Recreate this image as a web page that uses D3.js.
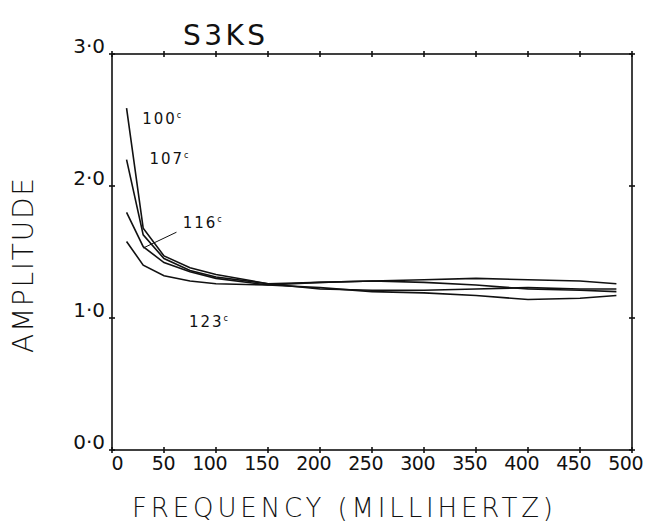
<!DOCTYPE html>
<html>
<head>
<meta charset="utf-8">
<script src="https://cdn.jsdelivr.net/npm/d3@7"></script>
<style>
  body { margin: 0; background: #fff; }
  text { font-family: "DejaVu Sans", sans-serif; fill: #111; }
</style>
</head>
<body>
<div id="chart"></div>
<script>
// frequencies (millihertz) where each curve was sampled
var freqs = [14, 30, 50, 75, 100, 150, 200, 250, 300, 350, 400, 450, 485];

// amplitude per temperature
var amp100 = [2.59, 1.68, 1.47, 1.38, 1.33, 1.26, 1.27, 1.28, 1.29, 1.30, 1.29, 1.28, 1.26];
var amp107 = [2.20, 1.63, 1.45, 1.36, 1.31, 1.26, 1.22, 1.21, 1.21, 1.22, 1.23, 1.22, 1.22];
var amp116 = [1.80, 1.54, 1.42, 1.35, 1.30, 1.25, 1.27, 1.28, 1.27, 1.25, 1.22, 1.21, 1.20];
var amp123 = [1.58, 1.40, 1.32, 1.28, 1.26, 1.25, 1.23, 1.20, 1.19, 1.17, 1.14, 1.15, 1.17];

var series = [
    {name: "100", values: amp100, lx: 29, ly: 2.47},
    {name: "107", values: amp107, lx: 36, ly: 2.17},
    {name: "116", values: amp116, lx: 68, ly: 1.68},
    {name: "123", values: amp123, lx: 74, ly: 0.93}
];

var xTicks = [0, 50, 100, 150, 200, 250, 300, 350, 400, 450, 500];
var yTicks = [0, 1, 2, 3];

var margin = {top: 54, right: 13, bottom: 76, left: 112},
    width = 645 - margin.left - margin.right,
    height = 526 - margin.top - margin.bottom;

var svg = d3.select("#chart")
    .append("svg")
        .attr("width", 645)
        .attr("height", 526)
    .append("g")
        .attr("transform", "translate(" + margin.left + "," + margin.top + ")");

var x = d3.scaleLinear().domain([0, 500]).range([0, width]);
var y = d3.scaleLinear().domain([0, 3]).range([height, 0]);

// frame
svg.append("rect")
    .attr("width", width)
    .attr("height", height)
    .attr("fill", "none")
    .attr("stroke", "#111")
    .attr("stroke-width", 1.6);

// cross ticks on all four sides
var t = 3;
xTicks.forEach(function(v) {
    [0, height].forEach(function(yy) {
        svg.append("line")
            .attr("x1", x(v)).attr("x2", x(v))
            .attr("y1", yy - t).attr("y2", yy + t)
            .attr("stroke", "#111").attr("stroke-width", 1.6);
    });
});
yTicks.forEach(function(v) {
    [0, width].forEach(function(xx) {
        svg.append("line")
            .attr("x1", xx - t).attr("x2", xx + t)
            .attr("y1", y(v)).attr("y2", y(v))
            .attr("stroke", "#111").attr("stroke-width", 1.6);
    });
});

// tick labels: last digit sits on the tick
svg.selectAll(".xlab")
    .data(xTicks)
    .enter().append("text")
        .attr("x", function(d) { return x(d) + 11; })
        .attr("y", height + 20)
        .attr("text-anchor", "end")
        .attr("font-size", 19)
        .attr("letter-spacing", -0.5)
        .text(function(d) { return d; });

svg.selectAll(".ylab")
    .data(yTicks)
    .enter().append("text")
        .attr("x", -7)
        .attr("y", function(d) { return y(d) - 1; })
        .attr("text-anchor", "end")
        .attr("font-size", 20)
        .text(function(d) { return d + "\u00b70"; });

// curves
var line = d3.line()
    .x(function(d) { return x(d[0]); })
    .y(function(d) { return y(d[1]); });

series.forEach(function(s) {
    var pts = freqs.map(function(f, i) { return [f, s.values[i]]; });
    svg.append("path")
        .datum(pts)
        .attr("d", line)
        .attr("fill", "none")
        .attr("stroke", "#111")
        .attr("stroke-width", 1.6);

    var lab = svg.append("text")
        .attr("x", x(s.lx))
        .attr("y", y(s.ly))
        .attr("font-size", 15)
        .attr("letter-spacing", 2)
        .text(s.name);
    lab.append("tspan")
        .attr("dy", -6)
        .attr("font-size", 8)
        .text("c");
});

// leader line for 116 label
svg.append("line")
    .attr("x1", x(62)).attr("y1", y(1.65))
    .attr("x2", x(30)).attr("y2", y(1.53))
    .attr("stroke", "#111").attr("stroke-width", 1);

// title and axis labels
svg.append("text")
    .attr("x", 71)
    .attr("y", -9)
    .attr("font-size", 28)
    .attr("textLength", 82)
    .attr("lengthAdjust", "spacing")
    .text("S3KS");

svg.append("text")
    .attr("x", 20)
    .attr("y", height + 67)
    .attr("font-size", 26)
    .attr("font-weight", 200)
    .attr("textLength", 421)
    .attr("lengthAdjust", "spacing")
    .text("FREQUENCY  (MILLIHERTZ)");

svg.append("text")
    .attr("transform", "rotate(-90)")
    .attr("x", -299)
    .attr("y", -79)
    .attr("font-size", 28)
    .attr("font-weight", 200)
    .attr("textLength", 175)
    .attr("lengthAdjust", "spacing")
    .text("AMPLITUDE");
</script>
</body>
</html>
